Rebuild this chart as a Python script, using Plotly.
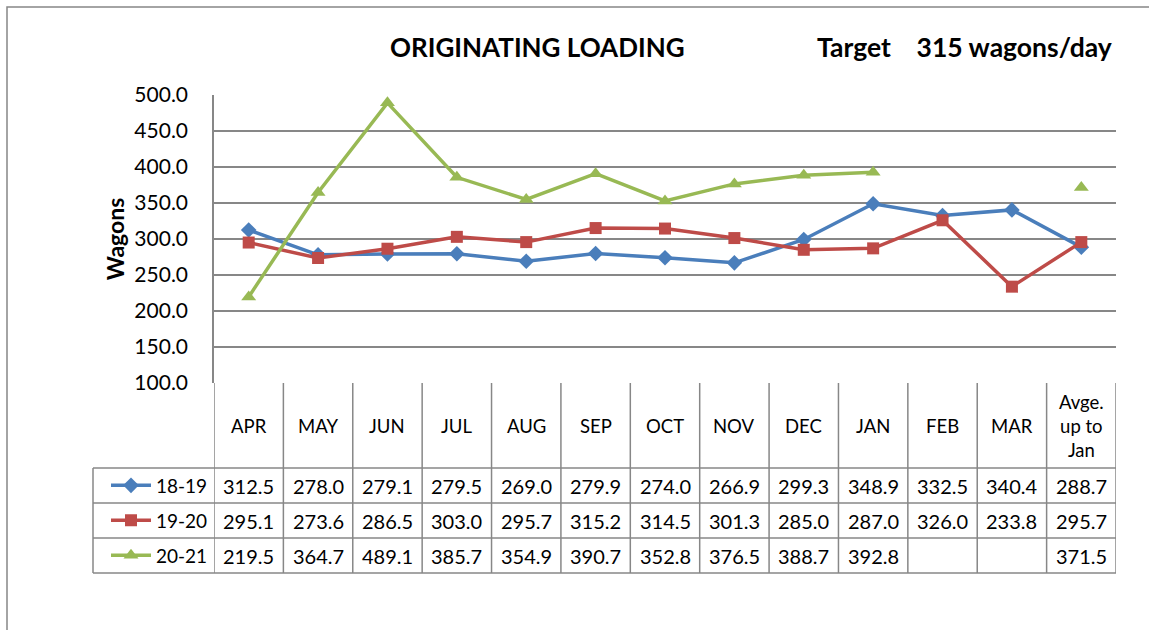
import plotly.graph_objects as go

# Data
months = ["APR", "MAY", "JUN", "JUL", "AUG", "SEP", "OCT", "NOV", "DEC", "JAN", "FEB", "MAR", "Avge.<br>up to<br>Jan"]
series_names = ["18-19", "19-20", "20-21"]
loading_1819 = [312.5, 278.0, 279.1, 279.5, 269.0, 279.9, 274.0, 266.9, 299.3, 348.9, 332.5, 340.4, 288.7]
loading_1920 = [295.1, 273.6, 286.5, 303.0, 295.7, 315.2, 314.5, 301.3, 285.0, 287.0, 326.0, 233.8, 295.7]
loading_2021 = [219.5, 364.7, 489.1, 385.7, 354.9, 390.7, 352.8, 376.5, 388.7, 392.8, None, None, 371.5]
y_ticks = [100, 150, 200, 250, 300, 350, 400, 450, 500]

W, H = 1149, 630
L, R, T, B = 214, 1116, 95, 383  # plot area in pixels
FONT = "Lato, 'Open Sans', sans-serif"
GRID = "#878787"


def px(p):
    return (p - L) / (R - L)


def py(p):
    return (B - p) / (B - T)


colors = ["#4a7ebb", "#be4b48", "#98b954"]
symbols = ["diamond", "square", "triangle-up"]
msizes = [12, 12, 13]
all_series = [loading_1819, loading_1920, loading_2021]
xs = list(range(len(months)))

fig = go.Figure()

legend_ids = ["legend", "legend2", "legend3"]
for i, (name, vals) in enumerate(zip(series_names, all_series)):
    fig.add_trace(go.Scatter(
        x=xs,
        y=vals,
        mode='lines+markers',
        name=name,
        connectgaps=False,
        line=dict(color=colors[i], width=3.5),
        marker=dict(symbol=symbols[i], size=msizes[i], color=colors[i]),
        legend=legend_ids[i],
        cliponaxis=False,
    ))

# table row boundaries (pixels)
header_bottom = 468
row_h = 35
row_tops = [header_bottom + k * row_h for k in range(len(series_names))]
table_bottom = header_bottom + row_h * len(series_names)

shapes = []
# vertical column lines
for k in range(len(months) + 1):
    shapes.append(dict(type='line', xref='x', yref='paper', x0=k - 0.5, x1=k - 0.5,
                       y0=py(B), y1=py(table_bottom), line=dict(color=GRID, width=1.5)))
# legend column left edge
shapes.append(dict(type='line', xref='paper', yref='paper', x0=px(93), x1=px(93),
                   y0=py(header_bottom), y1=py(table_bottom), line=dict(color=GRID, width=1.5)))
# horizontal row lines
for p in [header_bottom] + [t + row_h for t in row_tops]:
    shapes.append(dict(type='line', xref='paper', yref='paper', x0=px(93), x1=1,
                       y0=py(p), y1=py(p), line=dict(color=GRID, width=1.5)))
# chart frame
shapes.append(dict(type='rect', xref='paper', yref='paper', x0=px(7), x1=px(1170),
                   y0=py(650), y1=py(7), line=dict(color=GRID, width=1.5)))

annotations = []
# header labels
for i, m in enumerate(months):
    annotations.append(dict(text=m, xref='x', yref='paper', x=i, y=py((B + header_bottom) / 2),
                            xanchor='center', yanchor='middle', showarrow=False,
                            font=dict(size=18.5, color='#000000', family=FONT)))
# cell values
for r, vals in enumerate(all_series):
    yc = py(row_tops[r] + row_h / 2)
    for i, v in enumerate(vals):
        if v is None:
            continue
        annotations.append(dict(text=f"{v:.1f}", xref='x', yref='paper', x=i, y=yc,
                                xanchor='center', yanchor='middle', showarrow=False,
                                font=dict(size=20, color='#000000', family=FONT)))
# titles
annotations.append(dict(text="<b>ORIGINATING LOADING</b>", xref='paper', yref='paper',
                        x=px(537), y=py(47), xanchor='center', yanchor='middle', showarrow=False,
                        font=dict(size=26, color='#000000', family=FONT)))
annotations.append(dict(text="<b>Target&nbsp;&nbsp;&nbsp;&nbsp;315 wagons/day</b>", xref='paper', yref='paper',
                        x=px(1114), y=py(47), xanchor='right', yanchor='middle', showarrow=False,
                        font=dict(size=26.5, color='#000000', family=FONT)))

legend_layouts = {}
for r, lid in enumerate(legend_ids):
    legend_layouts[lid] = dict(
        x=px(106), y=py(row_tops[r] + row_h / 2), xanchor='left', yanchor='middle',
        bgcolor='rgba(0,0,0,0)', borderwidth=0,
        font=dict(size=19, color='#000000', family=FONT),
        itemwidth=40,
    )

fig.update_layout(
    width=W, height=H,
    margin=dict(l=L, r=W - R, t=T, b=H - B, pad=0),
    plot_bgcolor='white', paper_bgcolor='white',
    font=dict(family=FONT, color='#000000'),
    showlegend=True,
    xaxis=dict(range=[-0.5, len(months) - 0.5], showgrid=False, showticklabels=False,
               zeroline=False, showline=False, fixedrange=True),
    yaxis=dict(range=[100, 500], tickvals=y_ticks, tickformat='.1f',
               showgrid=True, gridcolor=GRID, gridwidth=1.5,
               showline=True, linecolor=GRID, linewidth=1.5, zeroline=False,
               ticks='', ticklabelstandoff=20,
               tickfont=dict(size=21, color='#000000', family=FONT),
               title=dict(text="<b>Wagons</b>", standoff=3,
                          font=dict(size=23, color='#000000', family=FONT))),
    shapes=shapes,
    annotations=annotations,
    **legend_layouts,
)

# remove the browser's default body margin so the figure sits at the window origin
fig.write_html("out.html", config={'displayModeBar': False},
               post_script="document.body.style.margin='0';")
